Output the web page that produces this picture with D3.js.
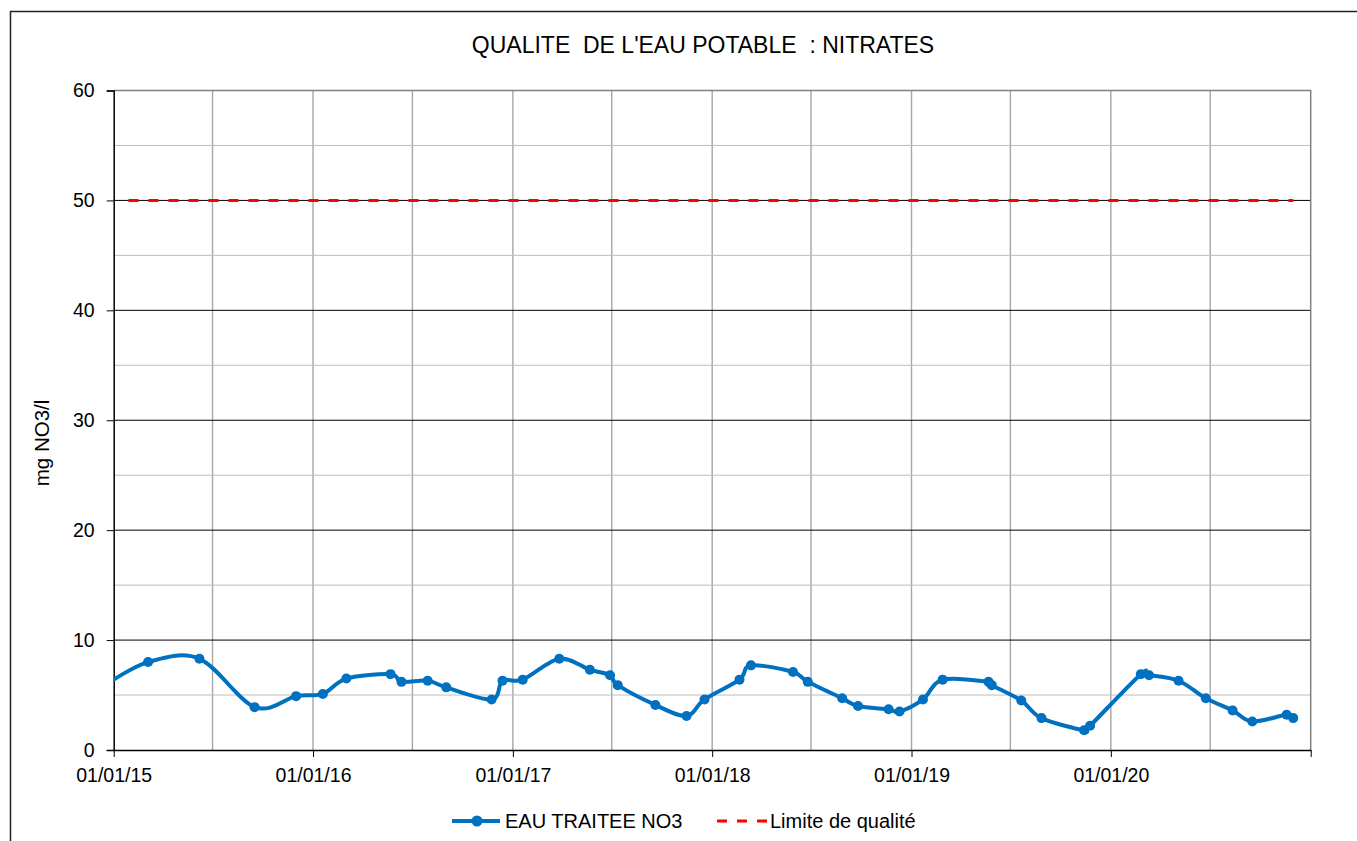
<!DOCTYPE html>
<html>
<head>
<meta charset="utf-8">
<script src="https://cdn.jsdelivr.net/npm/d3@7"></script>
<style>
  body { margin: 0; background: #fff; }
  svg { font-family: "Liberation Sans", Arial, sans-serif; }
</style>
</head>
<body>
<svg id="chart" width="1357" height="841"></svg>
<script>
// measurements (the 2014 one sits left of the axis and gets clipped)
const dates = ["2014-12-20",
  "2015-03-05", "2015-06-07", "2015-09-16", "2015-12-01",
  "2016-01-19", "2016-03-02", "2016-05-22", "2016-06-11", "2016-07-29", "2016-09-01", "2016-11-23", "2016-12-13",
  "2017-01-19", "2017-03-27", "2017-05-22", "2017-06-28", "2017-07-12", "2017-09-19", "2017-11-15", "2017-12-18",
  "2018-02-20", "2018-03-13", "2018-05-29", "2018-06-25", "2018-08-27", "2018-09-25", "2018-11-20", "2018-12-10",
  "2019-01-22", "2019-02-27", "2019-05-22", "2019-05-28", "2019-07-21", "2019-08-27", "2019-11-13", "2019-11-24",
  "2020-02-25", "2020-03-11", "2020-05-04", "2020-06-23", "2020-08-11", "2020-09-16", "2020-11-18", "2020-11-30"];
const no3 = [6.0,
  8.0, 8.3, 3.9, 4.9,
  5.1, 6.5, 6.9, 6.2, 6.3, 5.7, 4.6, 6.3,
  6.4, 8.3, 7.3, 6.8, 5.9, 4.1, 3.1, 4.6,
  6.4, 7.7, 7.1, 6.2, 4.7, 4.0, 3.7, 3.5,
  4.6, 6.4, 6.2, 5.9, 4.5, 2.9, 1.8, 2.2,
  6.9, 6.8, 6.3, 4.7, 3.6, 2.6, 3.2, 2.9];
const limitDates = ["2015-01-28", "2020-11-30"];
const limitValues = [50, 50];
const yTicks = [0, 10, 20, 30, 40, 50, 60];
const yMinor = [5, 15, 25, 35, 45, 55];
const seriesNames = ["EAU TRAITEE NO3", "Limite de qualité"];

const parse = d3.timeParse("%Y-%m-%d");
const points = dates.map((d, i) => ({ date: parse(d), value: no3[i] }));
const limit = limitDates.map((d, i) => ({ date: parse(d), value: limitValues[i] }));

const svg = d3.select("#chart");
const pLeft = 113.7, pRight = 1310.7, pTop = 90.5, pBottom = 750;

const x = d3.scaleTime()
  .domain([parse("2015-01-01"), parse("2021-01-01")])
  .range([pLeft, pRight]);
const y = d3.scaleLinear().domain([0, 60]).range([pBottom, pTop]);

// chart frame
svg.append("rect")
  .attr("x", 10.5).attr("y", 11.5)
  .attr("width", 1400).attr("height", 900)
  .attr("fill", "none").attr("stroke", "#222").attr("stroke-width", 1.5);

svg.append("text")
  .attr("x", 703).attr("y", 53)
  .attr("text-anchor", "middle")
  .attr("font-size", 23)
  .attr("xml:space", "preserve")
  .text("QUALITE  DE L'EAU POTABLE  : NITRATES");

// grid
const grid = svg.append("g");
const halfYears = d3.timeMonth.every(6).range(parse("2015-07-01"), parse("2021-01-01"));
grid.selectAll("line.v")
  .data(halfYears)
  .enter().append("line")
  .attr("x1", d => x(d)).attr("x2", d => x(d))
  .attr("y1", pTop).attr("y2", pBottom)
  .attr("stroke", "#a6a6a6").attr("stroke-width", 1.4);
grid.selectAll("line.minor")
  .data(yMinor)
  .enter().append("line")
  .attr("x1", pLeft).attr("x2", pRight)
  .attr("y1", d => y(d)).attr("y2", d => y(d))
  .attr("stroke", "#bdbdbd").attr("stroke-width", 1);
grid.selectAll("line.major")
  .data(yTicks.filter(d => d > 0 && d < 60))
  .enter().append("line")
  .attr("x1", pLeft).attr("x2", pRight)
  .attr("y1", d => y(d)).attr("y2", d => y(d))
  .attr("stroke", "#000").attr("stroke-width", 1);

// plot border top/right
svg.append("path")
  .attr("d", `M${pLeft},${pTop}H${pRight}V${pBottom}`)
  .attr("fill", "none").attr("stroke", "#808080").attr("stroke-width", 1.5);

// axes
const yAxis = svg.append("g")
  .attr("transform", `translate(${pLeft},0)`)
  .call(d3.axisLeft(y).tickValues(yTicks).tickSize(7).tickPadding(12));
yAxis.select(".domain").attr("stroke", "#000").attr("stroke-width", 1.5);
yAxis.selectAll("text").attr("font-size", 19.5).attr("font-family", "Liberation Sans, Arial, sans-serif").attr("fill", "#000");

const xAxis = svg.append("g")
  .attr("transform", `translate(0,${pBottom})`)
  .call(d3.axisBottom(x)
    .ticks(d3.timeYear.every(1))
    .tickFormat(d => d.getFullYear() < 2021 ? d3.timeFormat("%d/%m/%y")(d) : "")
    .tickSize(7).tickSizeOuter(0).tickPadding(11));
xAxis.select(".domain").attr("stroke", "#000").attr("stroke-width", 1.5);
xAxis.selectAll("text").attr("font-size", 19.5).attr("font-family", "Liberation Sans, Arial, sans-serif").attr("fill", "#000");

svg.append("text")
  .attr("transform", "translate(49,443) rotate(-90)")
  .attr("text-anchor", "middle")
  .attr("font-size", 20.5)
  .text("mg NO3/l");

// series
svg.append("clipPath").attr("id", "plot")
  .append("rect").attr("x", pLeft).attr("y", pTop)
  .attr("width", pRight - pLeft).attr("height", pBottom - pTop);
const plot = svg.append("g").attr("clip-path", "url(#plot)");

const line = d3.line()
  .x(d => x(d.date)).y(d => y(d.value))
  .curve(d3.curveCardinal.tension(0));

plot.append("path")
  .datum(limit)
  .attr("d", d3.line().x(d => x(d.date)).y(d => y(d.value)))
  .attr("fill", "none").attr("stroke", "#ff0000")
  .attr("stroke-width", 3).attr("stroke-dasharray", "10,10");

plot.append("path")
  .datum(points)
  .attr("d", line)
  .attr("fill", "none").attr("stroke", "#0070c0")
  .attr("stroke-width", 4).attr("stroke-linejoin", "round");

plot.selectAll("circle")
  .data(points)
  .enter().append("circle")
  .attr("cx", d => x(d.date)).attr("cy", d => y(d.value))
  .attr("r", 5).attr("fill", "#0070c0");

// legend
const legend = svg.append("g").attr("font-size", 20);
legend.append("line")
  .attr("x1", 452).attr("x2", 500).attr("y1", 821).attr("y2", 821)
  .attr("stroke", "#0070c0").attr("stroke-width", 4);
legend.append("circle").attr("cx", 477).attr("cy", 821).attr("r", 5.5).attr("fill", "#0070c0");
legend.append("text").attr("x", 505).attr("y", 828).text(seriesNames[0]);
legend.append("line")
  .attr("x1", 717).attr("x2", 767).attr("y1", 821).attr("y2", 821)
  .attr("stroke", "#ff0000").attr("stroke-width", 3).attr("stroke-dasharray", "10,10");
legend.append("text").attr("x", 770).attr("y", 828).text(seriesNames[1]);
</script>
</body>
</html>
